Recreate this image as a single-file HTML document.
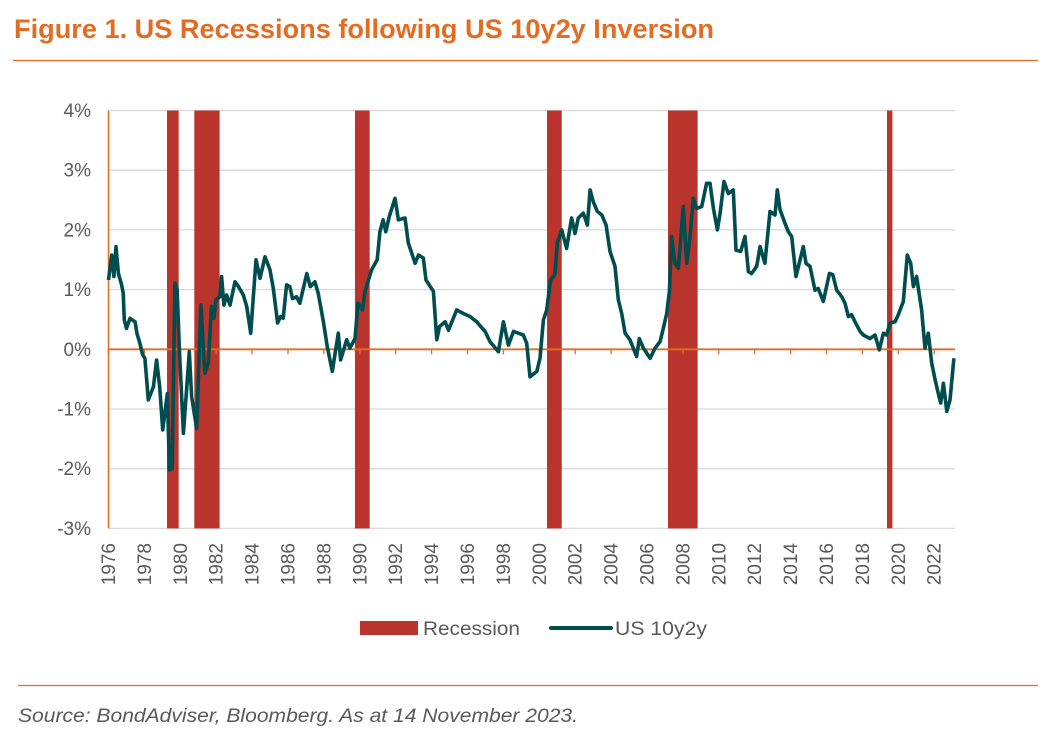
<!DOCTYPE html>
<html><head><meta charset="utf-8"><style>
html,body{margin:0;padding:0;background:#fff;}
svg{display:block;font-family:"Liberation Sans",Arial,sans-serif;}
</style></head><body>
<svg id="chart" width="1057" height="753" viewBox="0 0 1057 753">
<text x="14" y="38" font-size="27" font-weight="bold" fill="#E46C22" textLength="700" lengthAdjust="spacingAndGlyphs">Figure 1. US Recessions following US 10y2y Inversion</text>
<line x1="13" y1="60.5" x2="1038" y2="60.5" stroke="#E46C22" stroke-width="1.3"/>
<g id="grid"></g>
<g id="rec"></g>
<g id="axes"></g>
<g id="ser"></g>
<g>
<rect x="360" y="621" width="58" height="14" fill="#B9342C"/>
<text x="423" y="635" font-size="19" fill="#595959" textLength="97" lengthAdjust="spacingAndGlyphs">Recession</text>
<line x1="551" y1="628" x2="611" y2="628" stroke="#004D50" stroke-width="4" stroke-linecap="round"/>
<text x="615" y="635" font-size="19" fill="#595959" textLength="92" lengthAdjust="spacingAndGlyphs">US 10y2y</text>
</g>
<line x1="18" y1="685.5" x2="1038" y2="685.5" stroke="#E46C22" stroke-width="1.3"/>
<text x="18" y="722" font-size="19" font-style="italic" fill="#595959" textLength="560" lengthAdjust="spacingAndGlyphs">Source: BondAdviser, Bloomberg. As at 14 November 2023.</text>
</svg>
<script>
const yTicks=[4,3,2,1,0,-1,-2,-3];
const xTickYears=[1976,1978,1980,1982,1984,1986,1988,1990,1992,1994,1996,1998,2000,2002,2004,2006,2008,2010,2012,2014,2016,2018,2020,2022];
const recStart=[1979.26,1980.78,1989.73,2000.43,2007.17,2019.37];
const recEnd=[1979.91,1982.19,1990.55,2001.25,2008.82,2019.67];
const lineT=[1976.0,1976.18,1976.3,1976.42,1976.55,1976.73,1976.82,1976.88,1977.0,1977.2,1977.48,1977.58,1977.75,1977.9,1978.03,1978.22,1978.5,1978.68,1978.85,1979.02,1979.28,1979.39,1979.55,1979.7,1979.82,1979.95,1980.17,1980.36,1980.5,1980.63,1980.91,1981.15,1981.37,1981.56,1981.74,1981.87,1981.99,1982.2,1982.3,1982.43,1982.58,1982.77,1983.05,1983.24,1983.51,1983.7,1983.92,1984.22,1984.44,1984.72,1985.0,1985.18,1985.42,1985.58,1985.73,1985.92,1986.1,1986.25,1986.48,1986.66,1986.85,1987.05,1987.24,1987.5,1987.68,1987.97,1988.19,1988.47,1988.8,1988.93,1989.27,1989.45,1989.73,1989.9,1990.15,1990.29,1990.66,1990.97,1991.12,1991.3,1991.45,1991.64,1991.96,1992.15,1992.52,1992.7,1993.08,1993.27,1993.54,1993.69,1994.1,1994.29,1994.44,1994.75,1994.94,1995.21,1995.4,1995.77,1996.14,1996.51,1996.98,1997.25,1997.72,1998.0,1998.28,1998.56,1999.11,1999.3,1999.48,1999.86,2000.04,2000.23,2000.41,2000.63,2000.87,2001.0,2001.25,2001.52,2001.8,2001.99,2002.17,2002.45,2002.68,2002.83,2003.01,2003.23,2003.48,2003.72,2003.94,2004.22,2004.4,2004.59,2004.78,2005.05,2005.42,2005.57,2005.8,2006.17,2006.45,2006.73,2006.91,2007.1,2007.25,2007.37,2007.56,2007.75,2008.02,2008.21,2008.4,2008.58,2008.77,2009.05,2009.32,2009.51,2009.7,2009.92,2010.07,2010.29,2010.53,2010.81,2010.96,2011.22,2011.46,2011.65,2011.83,2012.11,2012.3,2012.57,2012.85,2013.13,2013.26,2013.41,2013.69,2013.87,2014.06,2014.3,2014.71,2014.86,2015.08,2015.36,2015.54,2015.82,2016.16,2016.35,2016.57,2016.85,2017.03,2017.22,2017.4,2017.59,2017.87,2018.05,2018.42,2018.7,2018.94,2019.17,2019.35,2019.54,2019.82,2020.0,2020.28,2020.5,2020.69,2020.84,2021.02,2021.3,2021.49,2021.67,2021.86,2022.05,2022.23,2022.36,2022.51,2022.7,2022.88,2023.1];
const lineV=[1.16,1.58,1.22,1.72,1.27,1.08,0.94,0.49,0.35,0.52,0.46,0.27,0.10,-0.09,-0.15,-0.85,-0.63,-0.18,-0.63,-1.35,-0.74,-2.02,-2.0,1.11,1.0,-0.01,-1.41,-0.63,-0.04,-0.79,-1.32,0.74,-0.40,-0.23,0.72,0.52,0.83,0.88,1.22,0.74,0.91,0.74,1.13,1.05,0.91,0.72,0.27,1.5,1.19,1.55,1.33,1.02,0.44,0.55,0.52,1.08,1.05,0.85,0.88,0.77,1.02,1.27,1.05,1.13,0.94,0.46,0.04,-0.37,0.27,-0.18,0.16,0.02,0.18,0.77,0.66,0.97,1.33,1.5,1.97,2.17,1.97,2.22,2.53,2.17,2.2,1.78,1.44,1.58,1.53,1.16,0.97,0.16,0.38,0.46,0.32,0.52,0.66,0.6,0.55,0.46,0.3,0.13,-0.04,0.46,0.07,0.3,0.24,0.1,-0.46,-0.37,-0.15,0.49,0.66,1.16,1.25,1.78,2.0,1.69,2.2,1.94,2.2,2.28,2.08,2.67,2.47,2.31,2.25,2.08,1.64,1.39,0.83,0.6,0.27,0.16,-0.12,0.18,0.02,-0.15,0.02,0.13,0.35,0.6,0.97,1.89,1.44,1.36,2.39,1.44,1.89,2.53,2.36,2.39,2.78,2.78,2.36,2.0,2.28,2.81,2.61,2.67,1.66,1.64,1.89,1.3,1.27,1.39,1.72,1.44,2.31,2.25,2.67,2.34,2.11,1.97,1.89,1.22,1.72,1.44,1.39,0.99,1.02,0.8,1.27,1.25,0.99,0.88,0.77,0.55,0.58,0.46,0.3,0.24,0.18,0.24,-0.01,0.27,0.24,0.44,0.46,0.58,0.8,1.58,1.44,1.05,1.22,0.66,0.02,0.27,-0.23,-0.51,-0.74,-0.9,-0.57,-1.04,-0.85,-0.15];

const NS="http://www.w3.org/2000/svg";
const X0=108.5,XS=17.95,XR=955,Y0=349.3,YS=59.7;
const xs=t=>X0+(t-1976)*XS;
const ys=v=>Y0-v*YS;
function mk(tag,attrs,parent){const e=document.createElementNS(NS,tag);for(const k in attrs)e.setAttribute(k,attrs[k]);parent.appendChild(e);return e;}
const grid=document.getElementById('grid'),axes=document.getElementById('axes'),rec=document.getElementById('rec'),ser=document.getElementById('ser');
yTicks.forEach(v=>{
  if(v!==0){const g=mk('line',{x1:X0,x2:XR,y1:ys(v),y2:ys(v),stroke:'#D9D9D9','stroke-width':1.3},grid);
  
  }
  const t=mk('text',{x:91,y:ys(v)+6.5,'font-size':19,fill:'#595959','text-anchor':'end'},axes);
  t.textContent=v+'%';
  
  
});
recStart.forEach((s,i)=>{
  const r=mk('rect',{x:xs(s),y:ys(4),width:xs(recEnd[i])-xs(s),height:ys(-3)-ys(4),fill:'#B9342C'},rec);
  
  
});
const ya=mk('line',{x1:X0,x2:X0,y1:ys(4),y2:ys(-3),stroke:'#E46C22','stroke-width':1.5},axes);


const xa=mk('line',{x1:X0,x2:XR,y1:ys(0),y2:ys(0),stroke:'#E46C22','stroke-width':1.8},axes);


xTickYears.forEach(yr=>{
  const x=xs(yr);
  const tk=mk('line',{x1:x,x2:x,y1:ys(0),y2:ys(0)+5,stroke:'#E46C22','stroke-width':1.3},axes);
  
  
  const t=mk('text',{x:0,y:0,'font-size':19,fill:'#595959','text-anchor':'end',transform:`translate(${x+6.5},543) rotate(-90)`},axes);
  t.textContent=yr;
  
  
});
const d=lineT.map((t,i)=>(i?'L':'M')+xs(t).toFixed(1)+','+ys(lineV[i]).toFixed(1)).join('');
const p=mk('path',{d:d,fill:'none',stroke:'#004D50','stroke-width':3.6,'stroke-linejoin':'round'},ser);


</script>
</body></html>
